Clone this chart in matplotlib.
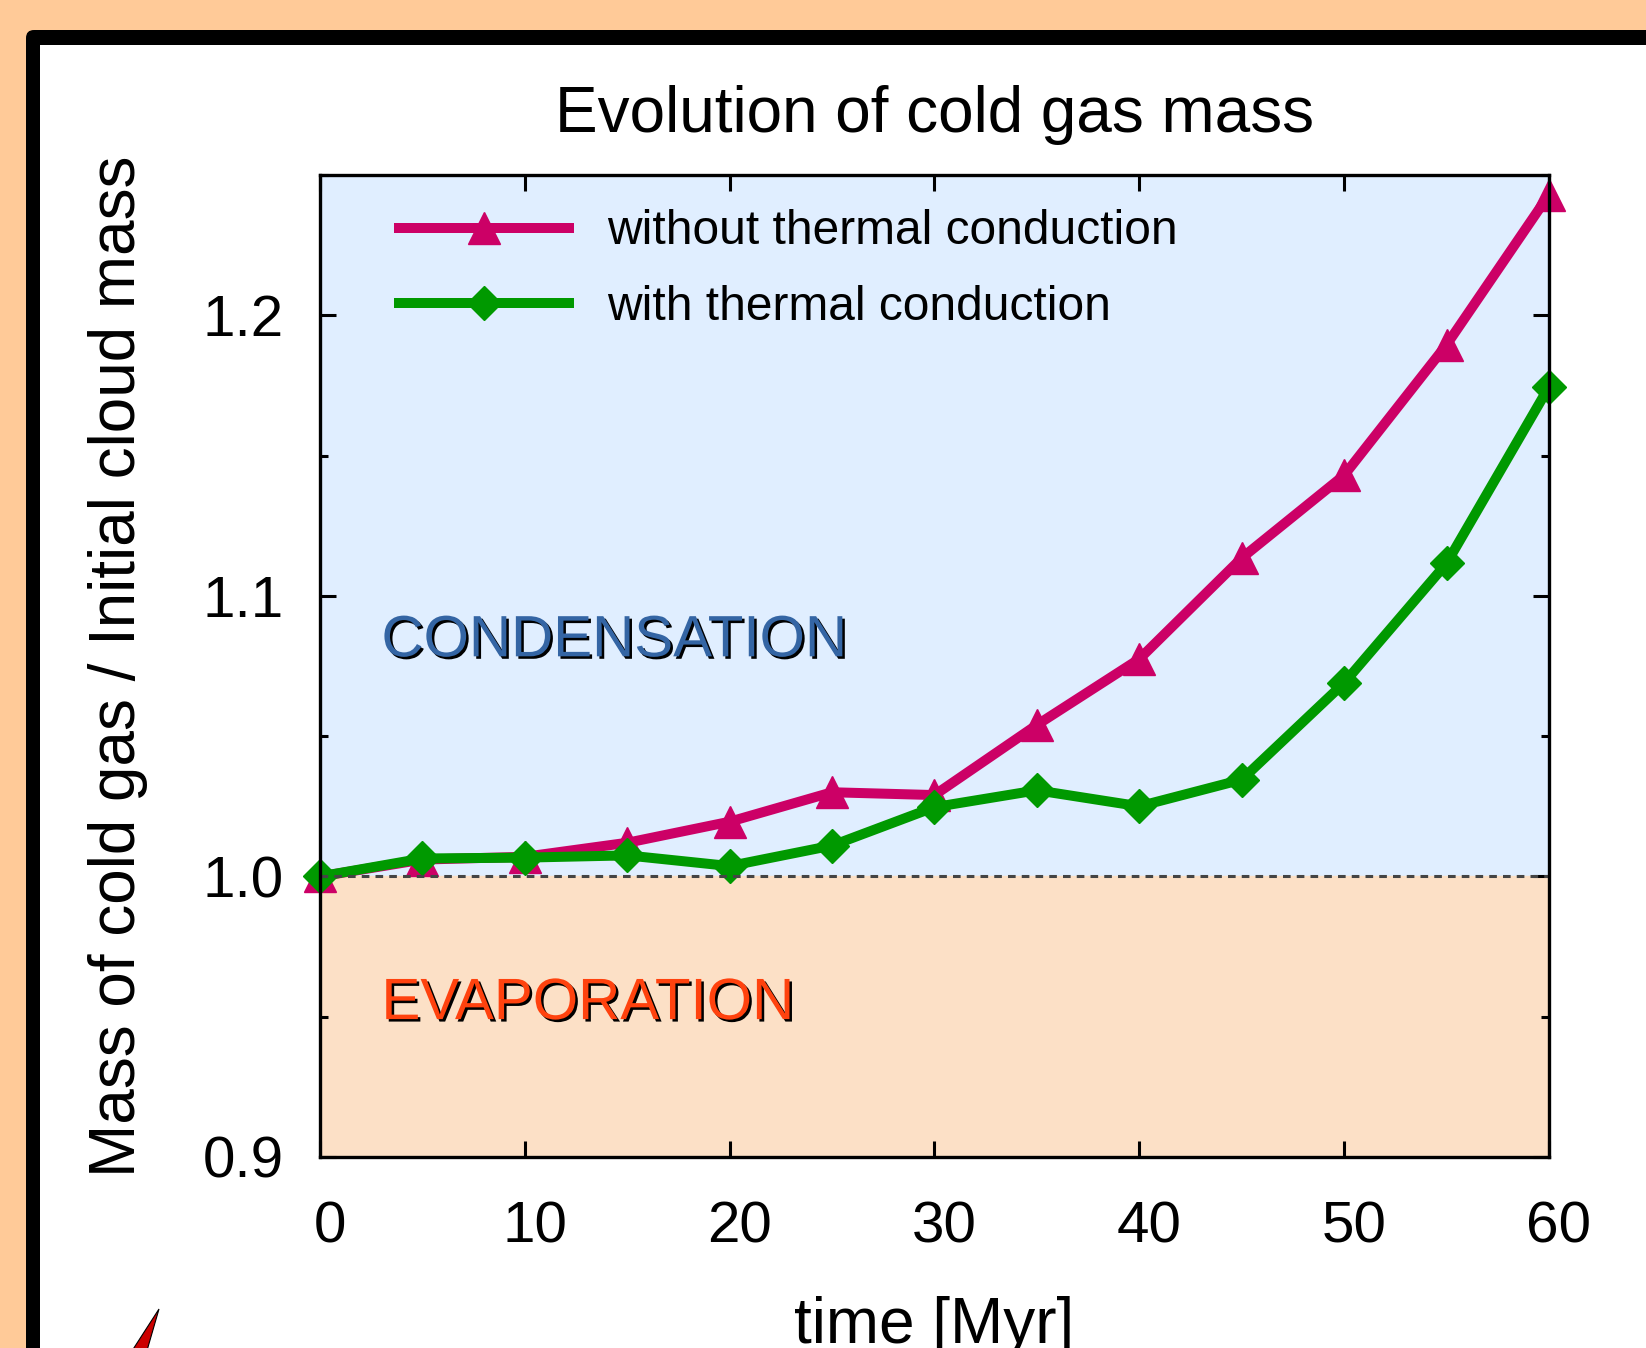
import matplotlib
matplotlib.use('Agg')
import matplotlib.pyplot as plt
from matplotlib import patches, patheffects, transforms
from matplotlib.ticker import MultipleLocator, FormatStrFormatter

# data
time_myr = [0, 5, 10, 15, 20, 25, 30, 35, 40, 45, 50, 55, 60]
mass_no_cond = [1.000, 1.006, 1.007, 1.012, 1.0195, 1.030, 1.029, 1.054, 1.0775, 1.1135, 1.143, 1.1895, 1.243]
mass_cond = [1.000, 1.0064, 1.0067, 1.0075, 1.0037, 1.011, 1.0247, 1.0307, 1.025, 1.0345, 1.069, 1.1116, 1.1745]
labels = ['without thermal conduction', 'with thermal conduction']
x_ticks = [0, 10, 20, 30, 40, 50, 60]

plt.rcParams['font.family'] = ['Liberation Sans', 'DejaVu Sans']

W, H = 1646, 1348
fig = plt.figure(figsize=(W / 100, H / 100), dpi=100, facecolor='#ffca98')
px = transforms.IdentityTransform()

## slide frame (black border with white inside)
frame = patches.FancyBboxPatch((26, -60), 1800, H - 30 + 60,
                               boxstyle='round,pad=0,rounding_size=8',
                               fc='black', ec='none', transform=px, zorder=-3)
inner = patches.Rectangle((40, -60), 1800, H - 45 + 60, fc='white', ec='none',
                          transform=px, zorder=-2)
wedge = patches.Polygon([[159, H - 1309], [130, -6], [146, -6]], closed=True,
                        fc='#cc0000', ec='black', lw=0.8, transform=px, zorder=-1)
for p in (frame, inner, wedge):
    fig.add_artist(p)

## axes
ax = fig.add_axes([320 / W, (H - 1157) / H, (1549 - 320) / W, (1157 - 175) / H])
ax.set_facecolor('none')
ax.set_xlim(0, 60)
ax.set_ylim(0.9, 1.25)

ax.axhspan(1.0, 1.25, color='#e0eeff', zorder=0)
ax.axhspan(0.9, 1.0, color='#fce0c6', zorder=0)
ax.axhline(1.0, color='#444444', lw=2.2, ls=(0, (2.5, 2)), zorder=2.2)

ax.plot(time_myr, mass_no_cond, color='#cc0066', lw=7.2, marker='^', ms=23,
        clip_on=False, label=labels[0], zorder=2)
ax.plot(time_myr, mass_cond, color='#009900', lw=7.2, marker='D', ms=17,
        clip_on=False, label=labels[1], zorder=2.1)

shadow = [patheffects.withSimplePatchShadow(offset=(1.8, -1.8), shadow_rgbFace='black', alpha=1.0)]
ax.text(3, 1.0838, 'CONDENSATION', color='#3465a4', fontsize=42, va='center',
        path_effects=shadow, zorder=3)
ax.text(3, 0.9545, 'EVAPORATION', color='#ff420e', fontsize=42, va='center',
        path_effects=shadow, zorder=3)

leg = ax.legend(loc='upper left', bbox_to_anchor=(0.0643, 0.965), frameon=False,
                fontsize=34.5, handlelength=3.55, handletextpad=0.8, labelspacing=0.64,
                borderpad=0, borderaxespad=0, numpoints=1)

## ticks
ax.set_xticks(x_ticks)
ax.yaxis.set_major_locator(MultipleLocator(0.1))
ax.yaxis.set_minor_locator(MultipleLocator(0.05))
ax.yaxis.set_major_formatter(FormatStrFormatter('%.1f'))
ax.tick_params(which='major', direction='in', length=11.5, width=2.2, top=True, right=True,
               labelsize=42)
ax.tick_params(which='minor', direction='in', length=6, width=2.2, right=True)
ax.tick_params(axis='y', pad=26)
ax.tick_params(axis='x', pad=31)
for s in ax.spines.values():
    s.set_linewidth(2.4)

shift = transforms.ScaledTranslation(10 / 100, 0, fig.dpi_scale_trans)
for tk in ax.xaxis.get_major_ticks():
    tk.label1.set_transform(tk.label1.get_transform() + shift)

## labels
ax.set_title('Evolution of cold gas mass', fontsize=46, y=1.035, va='baseline')
ax.set_ylabel('Mass of cold gas / Initial cloud mass', fontsize=46)
ax.yaxis.set_label_coords(-0.1644, 0.5)
ax.yaxis.label.set_va('center')
ax.set_xlabel('time [Myr]', fontsize=46)
ax.xaxis.set_label_coords(0.5, -0.1894)
ax.xaxis.label.set_va('baseline')

fig.savefig('out.png', dpi=100, facecolor=fig.get_facecolor())
